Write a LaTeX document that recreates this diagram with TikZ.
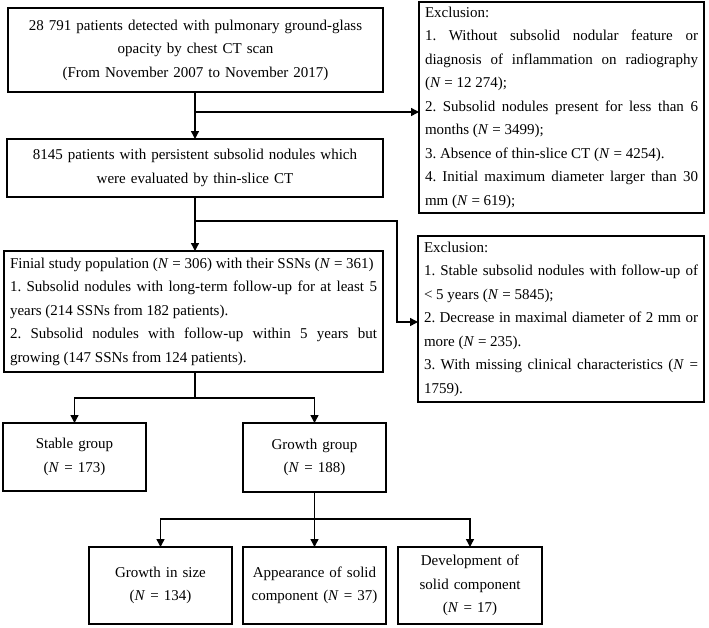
\documentclass[tikz,border=0pt]{standalone}
\usepackage{fontspec}
\setmainfont{Liberation Serif}
\usetikzlibrary{arrows.meta}
\newcommand{\nN}{\textit{N}}
\frenchspacing

\begin{document}
\begin{tikzpicture}[x=1pt,y=-1pt,font=\fontsize{15}{23.5}\selectfont,
  box/.style={draw,line width=1.4pt,anchor=north west,outer sep=0pt,inner xsep=6pt,inner ysep=3pt},
  lnk/.style={line width=1.4pt},
  arr/.style={line width=1.4pt,-{Triangle[length=8pt,width=8pt]}}]
\useasboundingbox (0,0) rectangle (709,627);

% main column
\node[box,text width=363pt,minimum height=84pt,align=center] (pop) at (8,8)
  {28~791 patients detected with pulmonary ground-glass\\opacity by chest CT scan\\(From November 2007 to November 2017)};
\node[box,text width=364pt,minimum height=58pt,align=center] (pers) at (7,139)
  {8145 patients with persistent subsolid nodules which\\were evaluated by thin-slice CT};
\node[box,text width=367pt,minimum height=121pt,align=justify] (final) at (4,251)
  {Finial study population (\nN{} = 306) with their SSNs (\nN{} = 361)\\
   1. Subsolid nodules with long-term follow-up for at least 5\linebreak
   years (214 SSNs from 182 patients).\\
   2. Subsolid nodules with follow-up within 5 years but\linebreak
   growing (147 SSNs from 124 patients).};

% exclusions
\node[box,text width=273pt,minimum height=211pt,align=justify] (exA) at (419,2)
  {Exclusion:\\
   1. Without subsolid nodular feature or\linebreak
   diagnosis of inflammation on radiography\linebreak
   (\nN{} = 12~274);\\
   2. Subsolid nodules present for less than 6\linebreak
   months (\nN{} = 3499);\\
   3. Absence of thin-slice CT (\nN{} = 4254).\\
   4. Initial maximum diameter larger than 30\linebreak
   mm (\nN{} = 619);};
\node[box,text width=274pt,minimum height=166pt,align=justify] (exB) at (418,236)
  {Exclusion:\\
   1. Stable subsolid nodules with follow-up of\linebreak
   < 5 years (\nN{} = 5845);\\
   2. Decrease in maximal diameter of 2 mm or\linebreak
   more (\nN{} = 235).\\
   3. With missing clinical characteristics (\nN{} =\linebreak
   1759).};

% groups
\node[box,text width=131pt,minimum height=68pt,align=center] (stable) at (3,423)
  {Stable group\\(\nN{} = 173)};
\node[box,text width=131pt,minimum height=69pt,align=center] (growth) at (243,423)
  {Growth group\\(\nN{} = 188)};
\node[box,text width=131pt,minimum height=77pt,align=center] (size) at (89,547)
  {Growth in size\\(\nN{} = 134)};
\node[box,text width=131pt,minimum height=77pt,align=center] (appear) at (243,547)
  {Appearance of solid\\component (\nN{} = 37)};
\node[box,text width=132pt,minimum height=77pt,align=center] (devel) at (398,547)
  {Development of\\solid component\\(\nN{} = 17)};

% connectors
\coordinate (j1) at (195,112);
\coordinate (j2) at (195,221);
\coordinate (k2) at (397,322);
\coordinate (j3) at (195,398);
\coordinate (j4) at (314.5,519);

\draw[arr] (pop.south -| j1) -- (pers.north -| j1);
\draw[arr] (j1) -- (j1 -| exA.west);
\draw[arr] (pers.south -| j2) -- (final.north -| j2);
\draw[arr] (j2) -| (k2) -- (k2 -| exB.west);
\draw[lnk] (final.south -| j3) -- (j3);
\draw[arr] (j3) -| (stable.north);
\draw[arr] (j3) -| (growth.north);
\draw[lnk] (growth.south) -- (j4);
\draw[arr] (j4) -| (size.north);
\draw[arr] (j4) -- (appear.north);
\draw[arr] (j4) -| (devel.north);
\end{tikzpicture}
\end{document}
